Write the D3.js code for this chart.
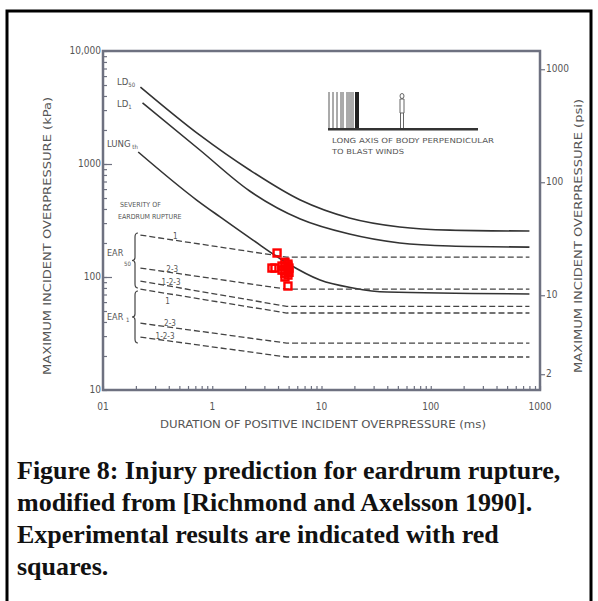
<!DOCTYPE html>
<html><head><meta charset="utf-8">
<script src="https://cdn.jsdelivr.net/npm/d3@7"></script>
<style>body{margin:0;background:#fff}svg{display:block}</style>
</head><body><svg id="c" width="598" height="601"></svg>
<script>
// ---- data ----
const durTicks = [0.1, 1, 10, 100, 1000];
const durTickLabels = ["01", "1", "10", "100", "1000"];
const kpaTicks = [10, 100, 1000, 10000];
const kpaTickLabels = ["10", "100", "1000", "10,000"];
const psiTicks = [2, 10, 100, 1000];
const psiTickLabels = ["2", "10", "100", "1000"];

const ld50Dur = [0.22, 0.77, 2.2, 6.4, 18, 52, 150, 800];
const ld50Kpa = [4800, 1800, 885, 480, 333, 277, 260, 255];
const ld1Dur = [0.23, 0.77, 2.2, 6.4, 18, 52, 150, 800];
const ld1Kpa = [3470, 1330, 577, 326, 240, 200, 188, 184];
const lungDur = [0.21, 0.72, 1.18, 2.36, 4.83, 9.7, 19.4, 39.8, 800];
const lungKpa = [1277, 480, 340, 212, 133, 94, 80, 73.6, 70.8];

const earDur = [0.22, 4.8, 800];
const ear50Sev1 = [235, 150, 150];
const ear50Sev23 = [120, 78, 78];
const ear50Sev123 = [92, 55, 55];
const ear1Sev1 = [78, 48, 48];
const ear1Sev23 = [39, 26, 26];
const ear1Sev123 = [29.4, 19.6, 19.6];
const earLabels = ["1", "2-3", "1-2-3", "1", "2-3", "1-2-3"];
const earLabelDur = [0.46, 0.43, 0.42, 0.39, 0.41, 0.37];

const redDur = [3.92, 3.52, 3.75, 4.93,
  4.63, 4.93, 4.35, 4.63, 4.93, 5.04, 4.35, 4.63, 4.93, 5.04, 4.63, 4.93, 4.63];
const redKpa = [163, 120, 120, 83.2,
  135, 130, 125, 125, 125, 120, 115, 115, 115, 110, 108, 104, 100];

const captionLines = [
  "Figure 8: Injury prediction for eardrum rupture,",
  "modified from [Richmond and Axelsson 1990].",
  "Experimental results are indicated with red",
  "squares."
];

// ---- drawing ----
const svg = d3.select("#c");
const L = 103, R = 540, T = 51, B = 390;
const x = d3.scaleLog().domain([0.1, 1000]).range([L, R]);
const y = d3.scaleLog().domain([10, 10000]).range([B, T]);
const KPA_PER_PSI = 6.895;
const yPsi = d3.scaleLog().domain([10 / KPA_PER_PSI, 10000 / KPA_PER_PSI]).range([B, T]);

const txt = "#555";
const axisCol = "#6e7180";
const lineCol = "#333";
const font = "'DejaVu Sans Condensed', 'DejaVu Sans', sans-serif";

// outer frame
svg.append("path").attr("d", `M7,601 V11 H591 V601`).attr("fill", "none")
  .attr("stroke", "#000").attr("stroke-width", 3);

// minor ticks
const minor = [];
for (let e = -1; e < 3; e++) for (let k = 1; k < 10; k++) minor.push(k * Math.pow(10, e));
minor.push(1000);
const minorY = [];
for (let e = 1; e < 4; e++) for (let k = 1; k < 10; k++) minorY.push(k * Math.pow(10, e));
minorY.push(10000);

const gx = svg.append("g").attr("transform", `translate(0,${B})`)
  .call(d3.axisBottom(x).tickValues(minor).tickSize(-4).tickFormat(() => ""));
const gy = svg.append("g").attr("transform", `translate(${L},0)`)
  .call(d3.axisLeft(y).tickValues(minorY).tickSize(-4).tickFormat(() => ""));
const gyMaj = svg.append("g").attr("transform", `translate(${L},0)`)
  .call(d3.axisLeft(y).tickValues([100, 1000]).tickSize(-9).tickFormat(() => ""));
const gr = svg.append("g").attr("transform", `translate(${R},0)`)
  .call(d3.axisRight(yPsi).tickValues(psiTicks).tickSize(5).tickFormat(() => ""));
[gx, gy, gyMaj, gr].forEach(g => {
  g.select(".domain").remove();
  g.selectAll(".tick line").attr("stroke", axisCol).attr("stroke-width", 1.2);
});

// plot frame
svg.append("rect").attr("x", L).attr("y", T).attr("width", R - L).attr("height", B - T)
  .attr("fill", "none").attr("stroke", axisCol).attr("stroke-width", 2.5);

// tick labels
svg.append("g").selectAll("text").data(durTicks).join("text")
  .attr("x", d => x(d)).attr("y", B + 20).attr("text-anchor", "middle")
  .attr("font-family", font).attr("font-size", 10).attr("fill", txt)
  .text((d, i) => durTickLabels[i]);
svg.append("g").selectAll("text").data(kpaTicks).join("text")
  .attr("x", L - 2).attr("y", d => y(d) + 3).attr("text-anchor", "end")
  .attr("font-family", font).attr("font-size", 10).attr("fill", txt)
  .text((d, i) => kpaTickLabels[i]);
svg.append("g").selectAll("text").data(psiTicks).join("text")
  .attr("x", R + 6).attr("y", d => yPsi(d) + 3).attr("text-anchor", "start")
  .attr("font-family", font).attr("font-size", 10).attr("fill", txt)
  .text((d, i) => psiTickLabels[i]);

// axis titles
svg.append("text").attr("x", (160 + 486) / 2).attr("y", 428).attr("text-anchor", "middle")
  .attr("font-family", font).attr("font-size", 10.5).attr("fill", txt)
  .attr("textLength", 326).attr("lengthAdjust", "spacingAndGlyphs")
  .text("DURATION OF POSITIVE INCIDENT OVERPRESSURE (ms)");
svg.append("text").attr("transform", "translate(51,236) rotate(-90)").attr("text-anchor", "middle")
  .attr("font-family", font).attr("font-size", 10.5).attr("fill", txt)
  .attr("textLength", 278).attr("lengthAdjust", "spacingAndGlyphs")
  .text("MAXIMUM INCIDENT OVERPRESSURE (kPa)");
svg.append("text").attr("transform", "translate(582,236) rotate(-90)").attr("text-anchor", "middle")
  .attr("font-family", font).attr("font-size", 10.5).attr("fill", txt)
  .attr("textLength", 274).attr("lengthAdjust", "spacingAndGlyphs")
  .text("MAXIMUM INCIDENT OVERPRESSURE (psi)");

// curves
const line = d3.line().x(d => x(d[0])).y(d => y(d[1])).curve(d3.curveMonotoneX);
const zip = (a, b) => a.map((v, i) => [v, b[i]]);
[[ld50Dur, ld50Kpa], [ld1Dur, ld1Kpa], [lungDur, lungKpa]].forEach(([d, k]) => {
  svg.append("path").attr("d", line(zip(d, k))).attr("fill", "none")
    .attr("stroke", lineCol).attr("stroke-width", 1.6);
});
const lin = d3.line().x(d => x(d[0])).y(d => y(d[1]));
const earSeries = [ear50Sev1, ear50Sev23, ear50Sev123, ear1Sev1, ear1Sev23, ear1Sev123];
earSeries.forEach(k => {
  svg.append("path").attr("d", lin(zip(earDur, k))).attr("fill", "none")
    .attr("stroke", "#444").attr("stroke-width", 1.3).attr("stroke-dasharray", "6,3");
});
// labels on dashed lines
earSeries.forEach((k, i) => {
  const d0 = earLabelDur[i];
  const t = (Math.log(d0) - Math.log(earDur[0])) / (Math.log(earDur[1]) - Math.log(earDur[0]));
  const kv = Math.exp(Math.log(k[0]) + t * (Math.log(k[1]) - Math.log(k[0])));
  const below = i === 3;
  svg.append("text").attr("x", x(d0)).attr("y", y(kv) + (below ? 10 : -1))
    .attr("text-anchor", "middle").attr("font-family", font).attr("font-size", 8)
    .attr("fill", txt).text(earLabels[i]);
});

// curve labels
function lbl(xp, yp, main, sub, size) {
  const t = svg.append("text").attr("x", xp).attr("y", yp).attr("font-family", font)
    .attr("font-size", size || 9.5).attr("fill", txt);
  t.append("tspan").text(main);
  if (sub) t.append("tspan").attr("font-size", 6).attr("dy", 2).text(sub);
}
lbl(117, 85, "LD", "50");
lbl(117, 107, "LD", "1");
lbl(107, 147, "LUNG", " th");
lbl(120, 207, "SEVERITY OF", null, 7);
lbl(118, 219, "EARDRUM RUPTURE", null, 7);
lbl(107, 256, "EAR", null, 9);
svg.append("text").attr("x", 124).attr("y", 266).attr("font-family", font).attr("font-size", 6)
  .attr("fill", txt).text("50");
lbl(107, 320, "EAR", null, 9);
svg.append("text").attr("x", 126).attr("y", 322).attr("font-family", font).attr("font-size", 6)
  .attr("fill", txt).text("1");

// braces
function brace(xp, y0, y1) {
  const m = (y0 + y1) / 2;
  svg.append("path")
    .attr("d", `M${xp + 3},${y0} Q${xp},${y0} ${xp},${y0 + 4} V${m - 3} Q${xp},${m} ${xp - 3},${m} Q${xp},${m} ${xp},${m + 3} V${y1 - 4} Q${xp},${y1} ${xp + 3},${y1}`)
    .attr("fill", "none").attr("stroke", "#444").attr("stroke-width", 1.2);
}
brace(135, 233, 288);
brace(135, 291, 343);

// inset: blast wave illustration
const ins = svg.append("g").attr("transform", "translate(328,92)");
[1, 5, 9, 13, 15, 19, 21, 23, 25].forEach(dx => {
  ins.append("line").attr("x1", dx).attr("x2", dx).attr("y1", 0).attr("y2", 37)
    .attr("stroke", "#444").attr("stroke-width", 0.9);
});
ins.append("rect").attr("x", 27).attr("y", 0).attr("width", 4).attr("height", 37).attr("fill", "#222");
ins.append("rect").attr("x", 0).attr("y", 36).attr("width", 150).attr("height", 2.5).attr("fill", "#333");
// person figure
ins.append("ellipse").attr("cx", 74).attr("cy", 4).attr("rx", 2).attr("ry", 2.5)
  .attr("fill", "none").attr("stroke", "#555").attr("stroke-width", 0.9);
ins.append("path").attr("d", "M72,7 h4 v14 h-4 z M72.5,21 v15 M75.5,21 v15")
  .attr("fill", "none").attr("stroke", "#555").attr("stroke-width", 0.9);
svg.append("text").attr("x", 332).attr("y", 143).attr("font-family", font).attr("font-size", 7)
  .attr("fill", txt).attr("textLength", 162).attr("lengthAdjust", "spacingAndGlyphs")
  .text("LONG AXIS OF BODY PERPENDICULAR");
svg.append("text").attr("x", 332).attr("y", 154).attr("font-family", font).attr("font-size", 7)
  .attr("fill", txt).attr("textLength", 72).attr("lengthAdjust", "spacingAndGlyphs")
  .text("TO BLAST WINDS");

// red squares
svg.append("g").selectAll("rect").data(zip(redDur, redKpa)).join("rect")
  .attr("x", d => x(d[0]) - 3.5).attr("y", d => y(d[1]) - 3.5)
  .attr("width", 7).attr("height", 7)
  .attr("fill", "none").attr("stroke", "#f00").attr("stroke-width", 2.4);

// caption
svg.append("g").selectAll("text").data(captionLines).join("text")
  .attr("x", 17).attr("y", (d, i) => 479 + i * 32)
  .attr("font-family", "'Liberation Serif', 'Times New Roman', serif")
  .attr("font-weight", "bold").attr("font-size", 26).attr("fill", "#111")
  .text(d => d);
</script></body></html>
